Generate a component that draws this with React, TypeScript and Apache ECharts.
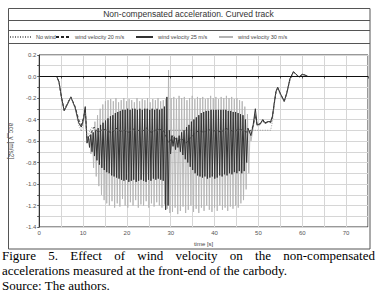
import React, { useEffect, useRef } from "react";
import * as echarts from "echarts";

// ---- Data ----
const seriesNames = ["No wind", "wind velocity 20 m/s", "wind velocity 25 m/s", "wind velocity 30 m/s"];

// common start-up transient (time in s)
const startTimes = [0, 4.0, 4.5, 5.1, 5.7, 6.3, 7.2, 8.2, 9.0, 9.6, 10.1, 10.5, 10.9];
const noWindStart = [0, 0, -0.05, -0.2, -0.32, -0.27, -0.19, -0.3, -0.45, -0.51, -0.42, -0.33, -0.6];
const wind20Start = [0, 0, -0.05, -0.2, -0.31, -0.26, -0.19, -0.28, -0.4, -0.45, -0.38, -0.3, -0.58];
const wind25Start = [0, 0, -0.05, -0.2, -0.32, -0.27, -0.19, -0.29, -0.43, -0.47, -0.4, -0.28, -0.62];
const wind30Start = [0, 0, -0.05, -0.2, -0.32, -0.27, -0.19, -0.29, -0.43, -0.47, -0.4, -0.31, -0.6];

// no wind: steady part
const noWindMidTimes = [11.4, 12.0, 12.6, 13.5, 52.8];
const noWindMid = [-0.52, -0.47, -0.5, -0.5, -0.5];

// wind 20 m/s: middle part sampled every 1 s from 11.5 s
const wind20MidStart = 11.5;
const wind20MidStep = 1;
const wind20Mid = [-0.55, -0.47, -0.52, -0.49, -0.5, -0.53, -0.48, -0.51, -0.5, -0.52, -0.49, -0.5, -0.51, -0.48, -0.52, -0.5, -0.49, -0.51, -0.62, -0.55, -0.6, -0.58, -0.62, -0.57, -0.53, -0.5, -0.52, -0.49, -0.51, -0.5, -0.52, -0.48, -0.5, -0.51, -0.49, -0.5, -0.52];

// wind 25 m/s: oscillation peaks every 0.28 s from 11.2 s
const wind25OscStart = 11.2;
const wind25OscStep = 0.28;
const wind25Osc = [
  -0.56, -0.66, -0.54, -0.7, -0.52, -0.74, -0.5,
  -0.78, -0.48, -0.82, -0.45, -0.85, -0.43, -0.87,
  -0.41, -0.89, -0.39, -0.9, -0.37, -0.92, -0.36, -0.93, -0.34, -0.94, -0.33,
  -0.95, -0.32, -0.96, -0.31, -0.97, -0.31, -0.96, -0.3, -0.98, -0.31, -0.97, -0.3, -0.96, -0.3, -0.98, -0.31,
  -0.97, -0.3, -0.96, -0.31, -0.97, -0.3, -0.98, -0.3, -0.96, -0.31, -0.97, -0.3, -0.95, -0.31, -0.96, -0.3,
  -0.95, -0.31, -0.96, -0.3, -0.97, -0.28,
  -1.24, -0.19, -1.2,
  -0.5, -0.72, -0.55, -0.65, -0.56, -0.68, -0.57, -0.66, -0.55, -0.7,
  -0.52, -0.73, -0.5, -0.77, -0.47, -0.8, -0.45, -0.84, -0.42, -0.87, -0.4, -0.9, -0.38, -0.92,
  -0.36, -0.93, -0.34, -0.94, -0.33, -0.93, -0.32, -0.95, -0.32, -0.94, -0.31, -0.93, -0.31, -0.95, -0.31, -0.94,
  -0.31, -0.92, -0.31, -0.93, -0.31, -0.91, -0.31, -0.92, -0.32, -0.9, -0.32, -0.91, -0.33, -0.89, -0.33, -0.9,
  -0.34, -0.88, -0.35, -0.9, -0.36, -0.88, -0.4, -0.8, -0.48,
];

// wind 30 m/s: oscillation peaks every 0.3 s from 11.5 s
const wind30OscStart = 11.5;
const wind30OscStep = 0.3;
const wind30Osc = [
  -0.58, -0.72, -0.5, -0.85, -0.42,
  -0.93, -0.36, -1.02, -0.3, -1.1, -0.26, -1.15, -0.23, -1.18, -0.22,
  -1.2, -0.21, -1.16, -0.23, -1.22, -0.2, -1.18, -0.24, -1.21, -0.22, -1.14, -0.2, -1.2, -0.23, -1.22,
  -0.21, -1.17, -0.22, -1.2, -0.24, -1.15, -0.2, -1.22, -0.23, -1.19, -0.21, -1.2, -0.22, -1.16, -0.2,
  -1.22, -0.24, -1.18, -0.21, -1.21, -0.22, -1.17, -0.2, -1.2, -0.23, -1.22, -0.22, -1.19, -0.21, -1.23,
  0.06, -1.27,
  -0.2, -1.26, -0.19, -1.22, -0.21, -1.28, -0.18, -1.25, -0.2, -1.21, -0.19, -1.27, -0.22, -1.24, -0.2, -1.2,
  -0.18, -1.26, -0.21, -1.23, -0.19, -1.27, -0.2, -1.22, -0.19, -1.25, -0.21, -1.2, -0.2, -1.24, -0.18, -1.26,
  -0.2, -1.22, -0.19, -1.25, -0.21, -1.2, -0.19, -1.24, -0.2, -1.22, -0.18, -1.25, -0.2, -1.21, -0.19, -1.23,
  -0.21, -1.2, -0.2, -1.22, -0.22, -1.18, -0.23, -1.15, -0.28, -1.05, -0.35, -0.9, -0.5,
];

// recovery at the end of the curve
const recoveryTimes = [48.3, 48.8, 49.3, 49.7, 50.4, 51.0, 51.5, 52.2, 52.8, 53.2, 53.6, 54.0, 54.4, 55.0, 55.9, 56.5, 57.2, 58.0, 58.6, 59.3, 60.0, 60.5, 61.3];
const wind20Recovery = [-0.5, -0.46, -0.36, -0.45, -0.44, -0.41, -0.44, -0.42, -0.43, -0.38, -0.26, -0.15, -0.11, -0.16, -0.23, -0.15, -0.03, 0.04, 0.02, -0.005, 0.02, 0.015, 0.0];
const wind25Recovery = [-0.55, -0.45, -0.3, -0.45, -0.44, -0.4, -0.43, -0.42, -0.42, -0.37, -0.25, -0.14, -0.1, -0.16, -0.23, -0.15, -0.02, 0.045, 0.02, -0.005, 0.02, 0.015, 0.0];
const wind30Recovery = [-0.6, -0.48, -0.35, -0.46, -0.45, -0.41, -0.44, -0.42, -0.42, -0.37, -0.25, -0.14, -0.1, -0.16, -0.23, -0.15, -0.02, 0.045, 0.02, -0.005, 0.02, 0.015, 0.0];

const noWindEndTimes = [53.2, 53.6, 54.0, 54.4, 55.0, 55.9, 56.5, 57.2, 58.0, 58.6, 59.3, 60.0, 60.5, 61.3, 75];
const noWindEnd = [-0.42, -0.27, -0.15, -0.11, -0.17, -0.24, -0.16, -0.03, 0.04, 0.02, 0.0, 0.02, 0.01, 0.0, 0.0];

const xTicksMax = 75;
const yMin = -1.4;
const yMax = 0.2;

const pairs = (times: number[], vals: number[]) => times.map((t, i) => [t, vals[i]]);
const sampled = (start: number, step: number, vals: number[]) => vals.map((v, i) => [+(start + i * step).toFixed(3), v]);

export default function App() {
  const ref = useRef<HTMLDivElement>(null);

  useEffect(() => {
    if (!ref.current) return;
    const chart = echarts.init(ref.current, null, { renderer: "svg" });

    const noWindData = [...pairs(startTimes, noWindStart), ...pairs(noWindMidTimes, noWindMid), ...pairs(noWindEndTimes, noWindEnd)];
    const w20Data = [...pairs(startTimes, wind20Start), ...sampled(wind20MidStart, wind20MidStep, wind20Mid), ...pairs(recoveryTimes, wind20Recovery)];
    const w25Data = [...pairs(startTimes, wind25Start), ...sampled(wind25OscStart, wind25OscStep, wind25Osc), ...pairs(recoveryTimes, wind25Recovery)];
    const w30Data = [...pairs(startTimes, wind30Start), ...sampled(wind30OscStart, wind30OscStep, wind30Osc), ...pairs(recoveryTimes, wind30Recovery)];

    const font = "Liberation Sans, Arial, sans-serif";
    const legendText = { fontSize: 5.5, color: "#444", fontFamily: font };
    const mkLegend = (name: string, left: number, w: number) => ({
      data: [name],
      left,
      top: 34,
      itemWidth: w,
      itemHeight: 6,
      itemGap: 2,
      padding: 0,
      textStyle: legendText,
      itemStyle: { opacity: 0 },
      selectedMode: false,
    });

    chart.setOption({
      animation: false,
      backgroundColor: "#fff",
      textStyle: { fontFamily: font },
      title: {
        text: "Non-compensated acceleration. Curved track",
        left: "center",
        top: 9,
        padding: 0,
        textStyle: { fontSize: 8.5, fontWeight: "normal", color: "#333", fontFamily: font },
      },
      legend: [
        mkLegend(seriesNames[0], 9, 21),
        mkLegend(seriesNames[1], 55, 14),
        mkLegend(seriesNames[2], 135, 17),
        mkLegend(seriesNames[3], 218, 14),
      ],
      graphic: [
        { type: "rect", shape: { x: 8.5, y: 8.5, width: 361.5, height: 240.5 }, style: { fill: "none", stroke: "#555", lineWidth: 1 }, z: 100 },
        { type: "line", shape: { x1: 8.5, y1: 20.5, x2: 370, y2: 20.5 }, style: { stroke: "#555", lineWidth: 1 }, z: 100 },
        { type: "line", shape: { x1: 8.5, y1: 30.5, x2: 370, y2: 30.5 }, style: { stroke: "#555", lineWidth: 1 }, z: 100 },
        { type: "line", shape: { x1: 8.5, y1: 43.5, x2: 370, y2: 43.5 }, style: { stroke: "#555", lineWidth: 1 }, z: 100 },
      ],
      grid: { left: 37, right: 9, top: 55, bottom: 25, show: true, borderColor: "#333", borderWidth: 1, backgroundColor: "#fff" },
      xAxis: {
        type: "value",
        min: 0,
        max: xTicksMax,
        interval: 5,
        name: "time [s]",
        nameLocation: "middle",
        nameGap: 13,
        nameTextStyle: { fontSize: 6, color: "#444" },
        axisLine: { lineStyle: { color: "#333" } },
        axisTick: { show: true, length: 2, lineStyle: { color: "#555" } },
        axisLabel: {
          fontSize: 6,
          color: "#555",
          margin: 3,
          formatter: (v: number) => (Math.round(v) % 10 === 0 ? String(Math.round(v)) : ""),
        },
        splitLine: { show: true, lineStyle: { color: "#d6d6d6", width: 1 } },
      },
      yAxis: {
        type: "value",
        min: yMin,
        max: yMax,
        interval: 0.1,
        name: "acc_y [m/s2]",
        nameLocation: "middle",
        nameRotate: -90,
        nameGap: 21,
        nameTextStyle: { fontSize: 6.5, color: "#444" },
        axisLine: { show: true, lineStyle: { color: "#333" } },
        axisTick: { show: true, length: 2, lineStyle: { color: "#555" } },
        axisLabel: {
          fontSize: 6,
          color: "#555",
          margin: 3,
          formatter: (v: number) => {
            const r = Math.round(v * 10);
            return r % 2 === 0 ? (r / 10).toFixed(1) : "";
          },
        },
        splitLine: { show: true, lineStyle: { color: "#d6d6d6", width: 1 } },
      },
      series: [
        {
          name: seriesNames[3],
          type: "line",
          data: w30Data,
          symbol: "none",
          lineStyle: { color: "#b3b3b3", width: 0.9 },
          itemStyle: { color: "#b3b3b3" },
        },
        {
          name: seriesNames[1],
          type: "line",
          data: w20Data,
          symbol: "none",
          lineStyle: { color: "#222", width: 0.8, type: [3, 2] },
          itemStyle: { color: "#222" },
        },
        {
          name: seriesNames[2],
          type: "line",
          data: w25Data,
          symbol: "none",
          lineStyle: { color: "#333", width: 1 },
          itemStyle: { color: "#333" },
          markLine: {
            silent: true,
            symbol: "none",
            label: { show: false },
            lineStyle: { color: "#111", width: 1.2, type: "solid" },
            data: [{ yAxis: 0 }],
          },
        },
        {
          name: seriesNames[0],
          type: "line",
          data: noWindData,
          symbol: "none",
          lineStyle: { color: "#777", width: 0.7, type: [1, 1.5] },
          itemStyle: { color: "#777" },
        },
      ],
    });

    return () => chart.dispose();
  }, []);

  return (
    <div style={{ position: "fixed", left: 0, top: 0, width: 377, height: 298, background: "#fff", overflow: "hidden" }}>
      <div ref={ref} style={{ position: "absolute", left: 0, top: 0, width: 377, height: 252 }} />
      <div
        style={{
          position: "absolute",
          left: 2,
          top: 248,
          width: 373,
          fontFamily: '"Liberation Serif", "Times New Roman", serif',
          fontSize: 13,
          lineHeight: "15px",
          color: "#000",
          whiteSpace: "nowrap",
        }}
      >
        <div style={{ textAlign: "justify", textAlignLast: "justify" }}>
          Figure 5. Effect of wind velocity on the non-compensated
        </div>
        <div>accelerations measured at the front-end of the carbody.</div>
        <div>Source: The authors.</div>
      </div>
    </div>
  );
}
